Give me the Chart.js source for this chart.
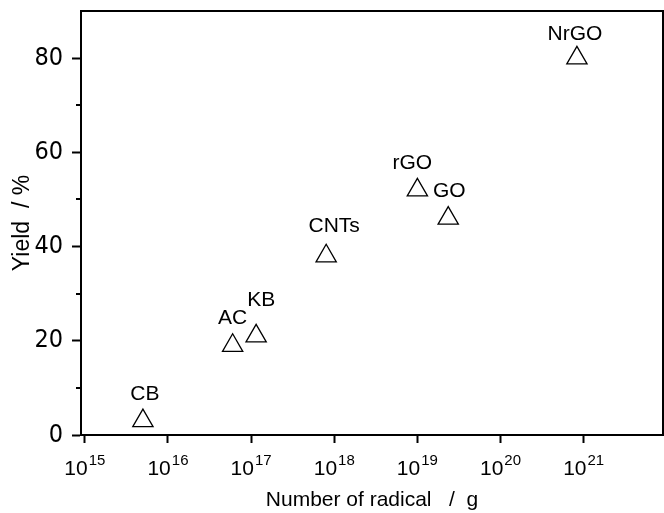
<!DOCTYPE html>
<html><head><meta charset="utf-8">
<script src="https://cdn.jsdelivr.net/npm/chart.js@4.4.1/dist/chart.umd.min.js"></script>
<style>html,body{margin:0;padding:0;background:#fff}canvas{display:block}</style>
</head><body>
<canvas id="c" width="664" height="513"></canvas>
<script>
// ---- data ----
const materials = ['CB', 'AC', 'KB', 'CNTs', 'rGO', 'GO', 'NrGO'];
const radicalsPerGram = [5e15, 6e16, 1.15e17, 8e17, 1e19, 2.35e19, 8.3e20];
const yieldPercent = [3, 19, 21, 38, 52, 46, 80];
const xTickValues = [1e15, 1e16, 1e17, 1e18, 1e19, 1e20, 1e21];
const xTickBase = '10';
const xTickExponents = ['15', '16', '17', '18', '19', '20', '21'];
const yTickValues = [0, 20, 40, 60, 80];
const yTickLabels = ['0', '20', '40', '60', '80'];
const yMinorTickValues = [10, 30, 50, 70];
const xTitle = 'Number of radical   /  g';
const yTitle = 'Yield  / %';

// ---- styling ----
const SANS = '"Liberation Sans", Arial, sans-serif';
const NARROW = '"Liberation Sans Narrow", "DejaVu Sans Condensed", "Liberation Sans", sans-serif';
const labelNudge = { CB: [2, 0], AC: [0, 0], KB: [5, -9], CNTs: [8, -3], rGO: [-5, 0], GO: [1, 0], NrGO: [-2, 3] };

function zeroPad(s) { s.paddingTop = 0; s.paddingBottom = 0; s.paddingLeft = 0; s.paddingRight = 0; }

const decor = {
  id: 'decor',
  afterDatasetsDraw(chart) {
    const ctx = chart.ctx, a = chart.chartArea, xs = chart.scales.x, ys = chart.scales.y;
    ctx.save();
    ctx.strokeStyle = '#000';
    ctx.lineWidth = 2;
    ctx.strokeRect(a.left, a.top, a.right - a.left, a.bottom - a.top);
    ctx.beginPath();
    yMinorTickValues.forEach(v => {
      const p = Math.round(ys.getPixelForValue(v));
      ctx.moveTo(a.left - 5, p); ctx.lineTo(a.left, p);
    });
    ctx.stroke();
    ctx.fillStyle = '#000';
    ctx.textBaseline = 'alphabetic';
    ctx.textAlign = 'left';
    xTickValues.forEach((v, i) => {
      const px = xs.getPixelForValue(v);
      ctx.font = '21px ' + SANS;
      const w1 = ctx.measureText(xTickBase).width;
      ctx.font = '15px ' + SANS;
      const w2 = ctx.measureText(xTickExponents[i]).width;
      const x0 = px - (w1 + w2 + 1) / 2;
      ctx.font = '21px ' + SANS;
      ctx.fillText(xTickBase, x0, a.bottom + 40);
      ctx.font = '15px ' + SANS;
      ctx.fillText(xTickExponents[i], x0 + w1 + 1, a.bottom + 30);
    });
    ctx.font = '21px ' + SANS;
    ctx.textAlign = 'center';
    const pts = chart.getDatasetMeta(0).data;
    materials.forEach((m, i) => {
      const el = pts[i];
      const n = labelNudge[m] || [0, 0];
      ctx.fillText(m, el.x + n[0], el.y - 21 + n[1]);
    });
    ctx.restore();
  }
};

new Chart(document.getElementById('c'), {
  type: 'scatter',
  data: {
    datasets: [{
      label: 'Yield',
      data: radicalsPerGram.map((x, i) => ({ x: x, y: yieldPercent[i] })),
      pointStyle: 'triangle',
      pointRadius: 11.7,
      pointHoverRadius: 11.7,
      pointBorderWidth: 1.3,
      pointBorderColor: '#000',
      pointBackgroundColor: 'rgba(0,0,0,0)',
      showLine: false
    }]
  },
  options: {
    responsive: false,
    animation: false,
    devicePixelRatio: 1,
    layout: { autoPadding: false, padding: { top: 11, right: 1, left: 0, bottom: 0 } },
    plugins: { legend: { display: false }, tooltip: { enabled: false } },
    scales: {
      x: {
        type: 'logarithmic',
        min: 9e14,
        max: 9e21,
        afterBuildTicks: s => { s.ticks = xTickValues.map(v => ({ value: v, major: true })); },
        afterFit: s => { s.height = 78; zeroPad(s); },
        ticks: { display: false },
        grid: { display: true, drawOnChartArea: false, drawTicks: true, tickLength: 8, tickWidth: 2, tickColor: '#000' },
        border: { display: true, color: '#000', width: 2 },
        title: { display: true, text: xTitle, color: '#000', font: { family: SANS, size: 21 }, padding: { top: 0, bottom: 0 } }
      },
      y: {
        type: 'linear',
        min: 0,
        max: 90,
        afterBuildTicks: s => { s.ticks = yTickValues.map(v => ({ value: v })); },
        afterFit: s => { s.width = 81; zeroPad(s); },
        ticks: {
          color: '#000',
          padding: 9,
          font: { family: NARROW, size: 25 },
          callback: v => yTickLabels[yTickValues.indexOf(v)]
        },
        grid: { display: true, drawOnChartArea: false, drawTicks: true, tickLength: 9, tickWidth: 2, tickColor: '#000' },
        border: { display: true, color: '#000', width: 2 },
        title: { display: true, text: yTitle, color: '#000', font: { family: SANS, size: 23 }, padding: { top: 9, bottom: 0 } }
      }
    }
  },
  plugins: [decor]
});
</script>
</body></html>
